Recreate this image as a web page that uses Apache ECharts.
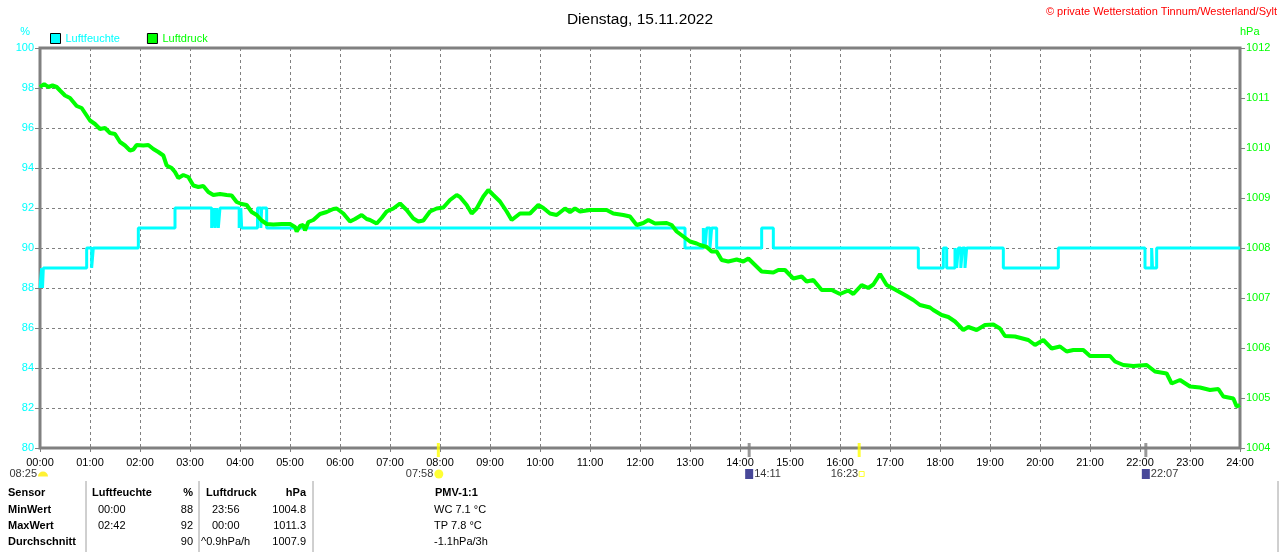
<!DOCTYPE html>
<html>
<head>
<meta charset="utf-8">
<title>Wetterstation Tinnum - 15.11.2022</title>
<script src="https://cdn.jsdelivr.net/npm/echarts@6/dist/echarts.min.js"></script>
<style>
    html, body { margin: 0; padding: 0; background: #fff; }
    #chart { width: 1280px; height: 552px; }
</style>
</head>
<body>
<div id="chart"></div>
<script>
// Luftfeuchte (%), Zeitpunkte an denen der Wert wechselt
var humTimes = ['00:00', '00:02', '00:03', '00:04', '00:06', '00:56', '01:02', '01:04', '01:58', '02:42',
    '03:26', '03:28', '03:30', '03:32', '03:34', '03:36', '03:59', '04:01', '04:02', '04:21', '04:25', '04:26', '04:32',
    '12:54', '13:16', '13:18', '13:20', '13:24', '13:26', '13:32', '14:26', '14:40', '17:34',
    '18:04', '18:08', '18:18', '18:20', '18:22', '18:25', '18:27', '18:30', '18:32', '18:34',
    '19:16', '20:22', '22:06', '22:14', '22:15', '22:20', '24:00'];
var humValues = [88, 89, 88, 89, 89, 90, 89, 90, 91, 92,
    91, 92, 91, 92, 91, 92, 91, 92, 91, 92, 91, 92, 91,
    90, 91, 90, 91, 90, 91, 90, 91, 90, 89,
    90, 89, 90, 89, 90, 89, 90, 89, 90, 90,
    89, 90, 89, 90, 89, 90, 90];

// Luftdruck (hPa)
var presTimes = ['00:00', '00:05', '00:10', '00:15', '00:20', '00:24', '00:30', '00:36', '00:40', '00:44',
    '00:50', '00:54', '01:00', '01:06', '01:12', '01:18', '01:24', '01:30', '01:36', '01:42',
    '01:48', '01:52', '01:56', '02:04', '02:10', '02:16', '02:22', '02:28', '02:32', '02:38',
    '02:42', '02:46', '02:52', '02:58', '03:04', '03:10', '03:16', '03:22', '03:28', '03:36',
    '03:44', '03:50', '03:56', '04:02', '04:08', '04:14', '04:20', '04:26', '04:32', '04:40',
    '04:50', '05:00', '05:06', '05:08', '05:12', '05:16', '05:18', '05:22', '05:28', '05:36',
    '05:44', '05:52', '05:56', '06:04', '06:12', '06:18', '06:26', '06:32', '06:36', '06:44',
    '06:50', '06:56', '07:04', '07:12', '07:20', '07:28', '07:34', '07:40', '07:48', '07:56',
    '08:04', '08:12', '08:20', '08:24', '08:32', '08:38', '08:44', '08:52', '08:58', '09:04',
    '09:12', '09:20', '09:26', '09:36', '09:48', '09:58', '10:04', '10:12', '10:20', '10:30',
    '10:36', '10:42', '10:48', '11:00', '11:20', '11:28', '11:40', '11:48', '11:56', '12:04',
    '12:10', '12:18', '12:32', '12:38', '12:44', '12:52', '13:00', '13:08', '13:12', '13:20',
    '13:26', '13:32', '13:38', '13:46', '13:56', '14:04', '14:10', '14:18', '14:26', '14:40',
    '14:46', '14:54', '15:04', '15:14', '15:20', '15:28', '15:38', '15:50', '16:00', '16:10',
    '16:16', '16:26', '16:34', '16:40', '16:48', '16:56', '17:06', '17:20', '17:28', '17:36',
    '17:48', '17:52', '18:02', '18:10', '18:18', '18:28', '18:34', '18:44', '18:54', '19:04',
    '19:12', '19:18', '19:30', '19:46', '19:54', '20:04', '20:14', '20:24', '20:32', '20:40',
    '20:52', '21:00', '21:24', '21:30', '21:40', '21:52', '22:08', '22:18', '22:32', '22:38',
    '22:48', '23:00', '23:12', '23:24', '23:34', '23:40', '23:52', '23:56', '24:00'];
var presValues = [1011.22, 1011.28, 1011.22, 1011.25, 1011.22, 1011.15, 1011.05, 1011.00, 1010.92, 1010.84,
    1010.80, 1010.70, 1010.55, 1010.48, 1010.38, 1010.40, 1010.30, 1010.28, 1010.12, 1010.05,
    1009.95, 1009.97, 1010.06, 1010.05, 1010.06, 1009.98, 1009.92, 1009.85, 1009.65, 1009.60,
    1009.52, 1009.40, 1009.46, 1009.42, 1009.25, 1009.22, 1009.24, 1009.12, 1009.06, 1009.08,
    1009.06, 1009.05, 1008.92, 1008.88, 1008.86, 1008.72, 1008.66, 1008.55, 1008.48, 1008.47,
    1008.48, 1008.48, 1008.42, 1008.33, 1008.44, 1008.46, 1008.35, 1008.52, 1008.56, 1008.68,
    1008.72, 1008.78, 1008.79, 1008.69, 1008.53, 1008.58, 1008.66, 1008.58, 1008.56, 1008.49,
    1008.60, 1008.73, 1008.79, 1008.89, 1008.76, 1008.59, 1008.53, 1008.55, 1008.73, 1008.79,
    1008.81, 1008.96, 1009.06, 1009.02, 1008.86, 1008.69, 1008.79, 1009.03, 1009.16, 1009.06,
    1008.93, 1008.73, 1008.56, 1008.69, 1008.69, 1008.86, 1008.80, 1008.69, 1008.66, 1008.79,
    1008.72, 1008.79, 1008.73, 1008.76, 1008.76, 1008.69, 1008.66, 1008.63, 1008.46, 1008.50,
    1008.56, 1008.49, 1008.50, 1008.46, 1008.33, 1008.23, 1008.13, 1008.09, 1008.06, 1008.02,
    1007.93, 1007.93, 1007.76, 1007.73, 1007.77, 1007.73, 1007.79, 1007.66, 1007.53, 1007.51,
    1007.56, 1007.56, 1007.39, 1007.43, 1007.33, 1007.36, 1007.16, 1007.16, 1007.08, 1007.15,
    1007.08, 1007.26, 1007.20, 1007.27, 1007.48, 1007.26, 1007.17, 1007.04, 1006.96, 1006.86,
    1006.81, 1006.76, 1006.66, 1006.62, 1006.53, 1006.36, 1006.42, 1006.36, 1006.46, 1006.47,
    1006.39, 1006.24, 1006.23, 1006.16, 1006.06, 1006.16, 1005.99, 1006.03, 1005.93, 1005.96,
    1005.96, 1005.84, 1005.84, 1005.73, 1005.66, 1005.64, 1005.66, 1005.53, 1005.49, 1005.29,
    1005.36, 1005.23, 1005.21, 1005.16, 1005.18, 1005.03, 1004.99, 1004.83, 1004.86];

// Sonne / Mond unter der Zeitachse
var eventTimes = ['00:00', '07:58', '14:11', '16:23', '22:07'];
var eventLabels = ['08:25', '07:58', '14:11', '16:23', '22:07'];
var eventKinds = ['moonprev', 'sunrise', 'moonrise', 'sunset', 'moonset'];

// Tabelle
var tableHead = ['Sensor', 'Luftfeuchte', '%', 'Luftdruck', 'hPa', 'PMV-1:1'];
var rowNames = ['MinWert', 'MaxWert', 'Durchschnitt'];
var humStatTimes = ['00:00', '02:42', ''];
var humStat = ['88', '92', '90'];
var presStatTimes = ['23:56', '00:00', '^0.9hPa/h'];
var presStat = ['1004.8', '1011.3', '1007.9'];
var pmvRows = ['WC 7.1 °C', 'TP 7.8 °C', '-1.1hPa/3h'];

var CYAN = '#00ffff', GREEN = '#00ff00', GRAY = '#808080';
var FONT = '"Liberation Sans", Arial, sans-serif';

function toMin(s) {
    var p = s.split(':');
    return parseInt(p[0], 10) * 60 + parseInt(p[1], 10);
}
function pad(i) {
    return i < 10 ? '0' + i : '' + i;
}
function zip(times, values) {
    var out = [];
    for (var i = 0; i < times.length; i++) {
        out.push([toMin(times[i]), values[i]]);
    }
    return out;
}

function eventData() {
    var out = [];
    for (var i = 0; i < eventTimes.length; i++) {
        var kind = eventKinds[i];
        var isSun = kind == 'sunrise' || kind == 'sunset';
        var item = {
            value: [toMin(eventTimes[i]), 80],
            symbolSize: kind == 'moonprev' ? 0 : [3, 14],
            itemStyle: { color: isSun ? '#ffff00' : GRAY },
            label: { show: true, position: 'inside', verticalAlign: 'middle' }
        };
        if (kind == 'sunrise') {
            item.label.formatter = '{t|' + eventLabels[i] + '}{sun| }';
            item.label.align = 'right';
            item.label.offset = [5, 24];
        } else if (kind == 'sunset') {
            item.label.formatter = '{t|' + eventLabels[i] + '}{set| }';
            item.label.align = 'right';
            item.label.offset = [5, 24];
        } else if (kind == 'moonprev') {
            item.label.formatter = '{t|' + eventLabels[i] + '}{half| }';
            item.label.align = 'right';
            item.label.offset = [8, 24];
        } else {
            item.label.formatter = '{moon| }{t|' + eventLabels[i] + '}';
            item.label.align = 'left';
            item.label.offset = [-4, 24];
        }
        out.push(item);
    }
    return out;
}

function tableGraphics() {
    var g = [];
    var rowsY = [493, 510, 526, 542];
    function txt(s, x, y, bold, align) {
        g.push({
            type: 'text', silent: true,
            style: {
                text: s, x: x, y: y, fill: '#000',
                font: (bold ? 'bold ' : '') + '11px ' + FONT,
                textAlign: align || 'left', textVerticalAlign: 'middle'
            }
        });
    }
    [86, 199, 313, 1278].forEach(function (x) {
        g.push({
            type: 'line', silent: true,
            shape: { x1: x, y1: 481, x2: x, y2: 552 },
            style: { stroke: '#a0a0a0', lineWidth: 1 }
        });
    });
    txt(tableHead[0], 8, rowsY[0], true);
    txt(tableHead[1], 92, rowsY[0], true);
    txt(tableHead[2], 193, rowsY[0], true, 'right');
    txt(tableHead[3], 206, rowsY[0], true);
    txt(tableHead[4], 306, rowsY[0], true, 'right');
    txt(tableHead[5], 435, rowsY[0], true);
    for (var i = 0; i < rowNames.length; i++) {
        var y = rowsY[i + 1];
        txt(rowNames[i], 8, y, true);
        txt(humStatTimes[i], 98, y, false);
        txt(humStat[i], 193, y, false, 'right');
        txt(presStatTimes[i], presStatTimes[i].charAt(0) == '^' ? 201 : 212, y, false);
        txt(presStat[i], 306, y, false, 'right');
        txt(pmvRows[i], 434, y, false);
    }
    // Copyright
    g.push({
        type: 'text', silent: true,
        style: {
            text: '\u00a9 private Wetterstation Tinnum/Westerland/Sylt', x: 1277, y: 12,
            fill: '#ff0000', font: '11px ' + FONT, textAlign: 'right', textVerticalAlign: 'middle'
        }
    });
    return g;
}

var chart = echarts.init(document.getElementById('chart'));
var option = {
    animation: false,
    backgroundColor: '#fff',
    title: {
        text: 'Dienstag, 15.11.2022',
        left: 'center',
        top: 7,
        textStyle: { fontSize: 15.5, fontWeight: 'normal', color: '#000', fontFamily: FONT }
    },
    legend: {
        left: 50,
        top: 33,
        padding: 0,
        icon: 'rect',
        itemWidth: 10,
        itemHeight: 10,
        itemGap: 27,
        selectedMode: false,
        itemStyle: { borderColor: '#000', borderWidth: 1 },
        textStyle: { fontSize: 11, fontFamily: FONT },
        data: [
            { name: 'Luftfeuchte', textStyle: { color: CYAN } },
            { name: 'Luftdruck', textStyle: { color: GREEN } }
        ]
    },
    grid: {
        left: 40, right: 40, top: 48, bottom: 104,
        show: true, borderColor: GRAY, borderWidth: 3, backgroundColor: '#fff'
    },
    xAxis: {
        type: 'value',
        min: 0, max: 1440, interval: 60,
        axisLine: { show: false },
        axisTick: { show: true, length: 4, lineStyle: { color: GRAY } },
        axisLabel: {
            color: '#000', fontSize: 11, fontFamily: FONT, margin: 9,
            formatter: function (v) { return pad(Math.floor(v / 60)) + ':' + pad(v % 60); }
        },
        splitLine: { show: true, lineStyle: { color: GRAY, type: [3, 3], width: 1 } }
    },
    yAxis: [{
        type: 'value',
        min: 80, max: 100, interval: 2,
        name: '%',
        nameGap: 11,
        nameTextStyle: { color: CYAN, fontSize: 11, fontFamily: FONT, align: 'right', padding: [0, 10, 0, 0] },
        axisLine: { show: false },
        axisTick: { show: true, length: 5, lineStyle: { color: GRAY } },
        axisLabel: { color: CYAN, fontSize: 11, fontFamily: FONT, margin: 6 },
        splitLine: { show: true, lineStyle: { color: GRAY, type: [3, 3], width: 1 } }
    }, {
        type: 'value',
        min: 1004, max: 1012, interval: 1,
        name: 'hPa',
        nameGap: 11,
        nameTextStyle: { color: GREEN, fontSize: 11, fontFamily: FONT, align: 'left', padding: [0, 0, 0, 0] },
        axisLine: { show: false },
        axisTick: { show: true, length: 5, lineStyle: { color: GRAY } },
        axisLabel: {
            color: GREEN, fontSize: 11, fontFamily: FONT, margin: 6,
            formatter: function (v) { return String(v); }
        },
        splitLine: { show: false }
    }],
    series: [{
        name: 'Luftfeuchte',
        type: 'line',
        yAxisIndex: 0,
        step: 'end',
        showSymbol: false,
        color: CYAN,
        lineStyle: { color: CYAN, width: 3 },
        data: zip(humTimes, humValues)
    }, {
        name: 'Luftdruck',
        type: 'line',
        yAxisIndex: 1,
        showSymbol: false,
        color: GREEN,
        lineStyle: { color: GREEN, width: 4 },
        data: zip(presTimes, presValues)
    }, {
        name: 'Ereignisse',
        type: 'scatter',
        yAxisIndex: 0,
        symbol: 'rect',
        symbolOffset: [0, 2],
        clip: false,
        silent: true,
        z: 5,
        label: {
            rich: {
                t: { fontSize: 11, color: '#000', fontFamily: FONT, padding: [0, 1, 0, 1] },
                sun: { width: 9, height: 9, borderRadius: 5, backgroundColor: '#ffff00', fontSize: 1 },
                set: { width: 5, height: 5, borderColor: '#ffff00', borderWidth: 1, fontSize: 1 },
                half: { width: 10, height: 5, borderRadius: [5, 5, 0, 0], backgroundColor: '#ffee00', fontSize: 1 },
                moon: { width: 8, height: 10, backgroundColor: '#1a1a80', fontSize: 1 }
            }
        },
        data: eventData()
    }],
    graphic: tableGraphics()
};
chart.setOption(option);
</script>
</body>
</html>
